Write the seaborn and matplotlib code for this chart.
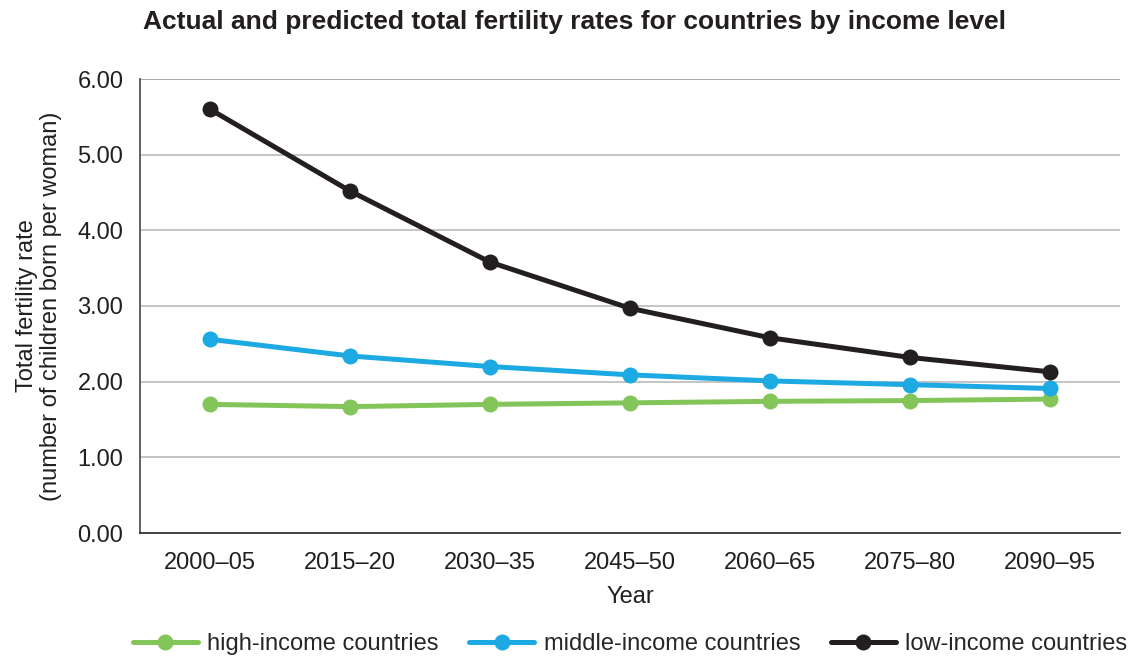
import seaborn as sns
import matplotlib.pyplot as plt
import pandas as pd

# values
periods = ['2000–05', '2015–20', '2030–35', '2045–50', '2060–65', '2075–80', '2090–95']
high_income = [1.70, 1.67, 1.70, 1.72, 1.74, 1.75, 1.77]
middle_income = [2.56, 2.34, 2.20, 2.09, 2.01, 1.96, 1.91]
low_income = [5.60, 4.52, 3.58, 2.97, 2.58, 2.32, 2.13]

series_names = ['high-income countries', 'middle-income countries', 'low-income countries']
colors = ['#84C55A', '#1DA9E1', '#231F20']

df = pd.DataFrame({
    'Year': periods * 3,
    'rate': high_income + middle_income + low_income,
    'group': [n for n in series_names for _ in periods],
})
df['x'] = df['Year'].map({p: i for i, p in enumerate(periods)})

sns.set_theme(style='white')
plt.rcParams['font.family'] = ['Liberation Sans', 'DejaVu Sans']

fs = 17
fig = plt.figure(figsize=(11.39, 6.57), dpi=100)
ax = fig.add_axes([140 / 1139, 1 - 533 / 657, 980 / 1139, 454 / 657])

sns.lineplot(data=df, x='x', y='rate', hue='group', hue_order=series_names,
             palette=colors, marker='o', markersize=11.5, markeredgewidth=0,
             linewidth=3.6, ax=ax, legend=True)

ax.set_xlim(-0.5, 6.5)
ax.set_ylim(0, 6)
ax.set_yticks(range(7))
ax.set_yticklabels([f'{v:.2f}' for v in range(7)], fontsize=fs, color='#231F20')
ax.set_xticks(range(len(periods)))
ax.set_xticklabels(periods, fontsize=fs, color='#231F20')
ax.tick_params(axis='x', length=0, pad=14)
ax.tick_params(axis='y', length=0, pad=12)

for v in range(1, 7):
    ax.axhline(v, color='#BBBBBB' if v < 6 else '#999999', linewidth=1.2, zorder=0)

for s in ['top', 'right']:
    ax.spines[s].set_visible(False)
ax.spines['left'].set_color('#555555')
ax.spines['left'].set_linewidth(1.3)
ax.spines['bottom'].set_color('#333333')
ax.spines['bottom'].set_linewidth(1.3)

ax.set_xlabel('Year', fontsize=fs, color='#231F20', labelpad=8)
ax.set_ylabel('Total fertility rate\n(number of children born per woman)',
              fontsize=fs, color='#231F20', labelpad=11, linespacing=1.15)

fig.text(143 / 1139, 1 - 22 / 657, 'Actual and predicted total fertility rates for countries by income level',
         fontsize=19, fontweight='bold', color='#231F20', va='center', ha='left')

handles, labels = ax.get_legend_handles_labels()
ax.legend(handles, labels, loc='center', bbox_to_anchor=(0.5, -0.245), ncol=3,
          frameon=False, fontsize=fs, handlelength=2.75, columnspacing=1.3,
          handletextpad=0.4)

plt.savefig('out.png', dpi=100)
